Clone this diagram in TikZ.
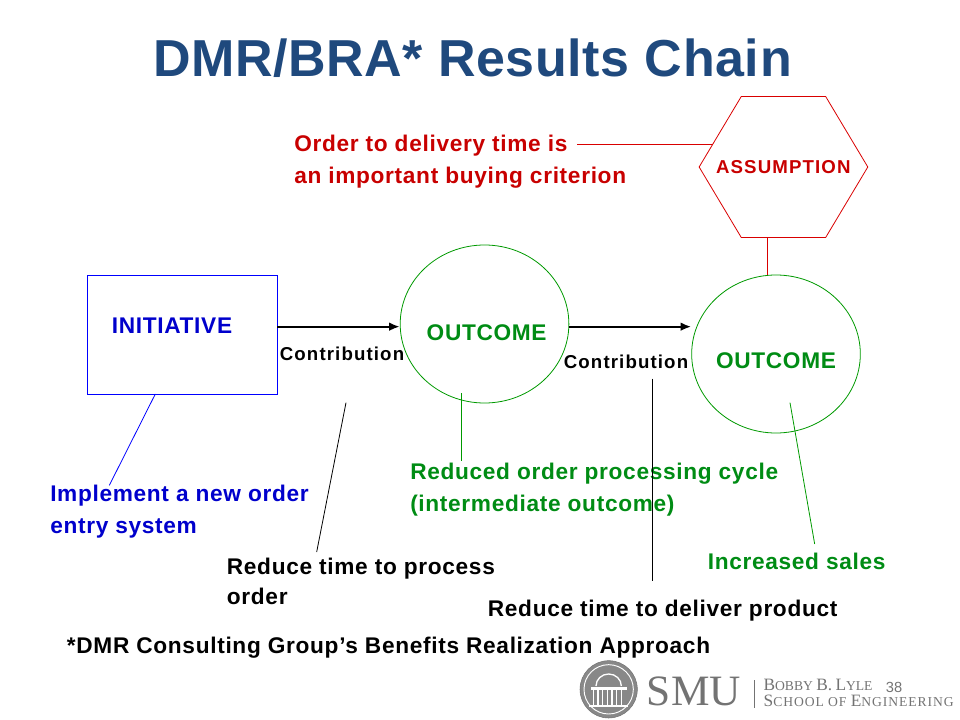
\documentclass[tikz,border=0pt]{standalone}
\usepackage{xcolor}
\usepackage{fontspec}
\setmainfont{Liberation Sans}
\newfontfamily\logofont{Liberation Serif}
\usepackage{tikz}
\usetikzlibrary{shapes.geometric, arrows.meta, positioning}
\definecolor{titleblue}{RGB}{31,73,125}
\definecolor{linkgreen}{RGB}{0,153,0}
\definecolor{textgreen}{RGB}{0,140,20}
\definecolor{textblue}{RGB}{0,0,204}
\definecolor{textred}{RGB}{200,0,0}
\definecolor{logogray}{RGB}{115,115,115}
\newcommand{\capsword}[2]{{\fontsize{13}{13}\selectfont #1}{\fontsize{10.2}{13}\selectfont #2}}

\begin{document}
\begin{tikzpicture}[x=1pt,y=-1pt,
            lbl/.style     ={inner sep=0pt, font=\fontsize{17}{24}\selectfont\bfseries\addfontfeature{LetterSpace=3}, align=left},
            small/.style   ={inner sep=0pt, font=\fontsize{14}{16}\selectfont\bfseries\addfontfeature{LetterSpace=6}},
            outcome/.style ={ellipse, draw=linkgreen, line width=0.6pt, minimum width=126.5pt, minimum height=118.5pt, inner sep=0pt},
            arr/.style     ={-{Latex[length=8pt,width=6.5pt]}, line width=1.6pt, black},
            logotext/.style={inner sep=0pt, text=logogray, font=\logofont}
        ]
            \useasboundingbox (0,0) rectangle (720,540);
            \node[inner sep=0pt, font=\fontsize{39}{44}\selectfont\bfseries\addfontfeature{LetterSpace=1.2}, text=titleblue] (title) at (354.4,44) {DMR/BRA* Results Chain};

            % --- Nodes of the chain ---
            \node[rectangle, draw=blue, line width=0.6pt, minimum width=142.5pt, minimum height=89pt] (init) at (136.5,251) {};
            \node[lbl, text=textblue] (initlabel) at (129,244) {INITIATIVE};
            \node[outcome] (mid) at (363.4,243) {};
            \node[lbl, text=textgreen] (midlabel) at (365,249.5) {OUTCOME};
            \node[outcome] (last) at (582,265.5) {};
            \node[lbl, text=textgreen] (lastlabel) at (582,270.5) {OUTCOME};
            \node[regular polygon, regular polygon sides=6, draw=red!85!black, line width=0.6pt, minimum size=126.5pt, inner sep=0pt, transform shape, yscale=0.966] (assume) at (587.6,125.25) {};
            \node[small, text=textred] (assumelabel) at (587.5,125.5) {ASSUMPTION};

            % --- Labels ---
            \node[small] (contrib1) at (256.5,265) {Contribution};
            \node[small] (contrib2) at (469.5,271) {Contribution};
            \node[lbl, text=textred, anchor=north west] (criterion) at (220.5,101) {Order to delivery time is\\an important buying criterion};
            \node[lbl, text=textblue, anchor=north west] (system) at (37.5,363.5) {Implement a new order\\entry system};
            \node[lbl, text=textgreen, anchor=north west] (cycle) at (307.5,347) {Reduced order processing cycle\\(intermediate outcome)};
            \node[lbl, text=textgreen] (sales) at (597.5,421) {Increased sales};
            \node[lbl, anchor=north west] (process) at (170,418.5) {Reduce time to process\\[-2pt]order};
            \node[lbl] (deliver) at (497,458) {Reduce time to deliver product};
            \node[lbl] (note) at (291.4,485.5) {*DMR Consulting Group’s Benefits Realization Approach};
            \node[inner sep=0pt, text=logogray, font=\fontsize{11}{11}\selectfont] (page) at (670.5,515.5) {38};

            % --- Links ---
            \draw[arr] (init.east |- 0,245) -- (mid.west |- 0,245);
            \draw[arr] (mid.east |- 0,245) -- (last.west |- 0,245);
            \coordinate (hexfoot) at (575.2,178.6);
            \coordinate (lasttop) at (575.2,206.5);
            \draw[red!85!black, line width=0.6pt] (hexfoot) -- (lasttop);
            \coordinate (critend) at (433,108);
            \coordinate (hexside) at (535,108);
            \draw[red!85!black, line width=0.6pt] (critend) -- (hexside);
            \coordinate (sysend) at (82,364);
            \coordinate (initfoot) at (116.5,295.5);
            \draw[blue, line width=0.6pt] (initfoot) -- (sysend);
            \coordinate (cycletop) at (346,295);
            \coordinate (cycleend) at (346,346);
            \draw[linkgreen, line width=0.6pt] (cycletop) -- (cycleend);
            \coordinate (salestop) at (592.5,302);
            \coordinate (salesend) at (611,408);
            \draw[linkgreen, line width=0.6pt] (salestop) -- (salesend);
            \coordinate (procA) at (259.5,302);
            \coordinate (procB) at (237.5,414);
            \draw[black, line width=0.6pt] (procA) -- (procB);
            \coordinate (delA) at (489.5,284);
            \coordinate (delB) at (489.5,436);
            \draw[black, line width=0.6pt] (delA) -- (delB);

            % --- Logo ---
            \node[circle, fill=logogray!85, draw=logogray, minimum size=43pt, inner sep=0pt] (seal) at (456.5,517) {};
            \node[circle, draw=white, line width=0.7pt, minimum size=37pt, inner sep=0pt] (sealring) at (seal) {};
            \fill[white] (443,515.5) -- (470,515.5) -- (470,517.5) -- (443,517.5) -- cycle;
            \draw[white, line width=1pt] (447,514.5) arc[start angle=180, end angle=0, x radius=9.5pt, y radius=9pt];
            \foreach \xx in {445,448.5,452,455.5,459,462.5,466}
                \draw[white, line width=0.9pt] (\xx,517.5) -- (\xx,528.5);
            \draw[white, line width=1.2pt] (442,529.5) -- (471,529.5);
            \node[logotext, font=\logofont\fontsize{32.5}{32}\selectfont, anchor=base west] (smu) at (485,529) {SMU};
            \coordinate (sepA) at (565.5,510);
            \coordinate (sepB) at (565.5,531);
            \draw[logogray, line width=0.5pt] (sepA) -- (sepB);
            \node[logotext, anchor=base west] (lyle) at (572.5,517.5) {\capsword{B}{OBBY} \capsword{B.}{} \capsword{L}{YLE}};
            \node[logotext, font=\logofont\addfontfeature{LetterSpace=7}, anchor=base west] (school) at (572.5,529.5) {\capsword{S}{CHOOL} \capsword{}{OF} \capsword{E}{NGINEERING}};
        \end{tikzpicture}
\end{document}
